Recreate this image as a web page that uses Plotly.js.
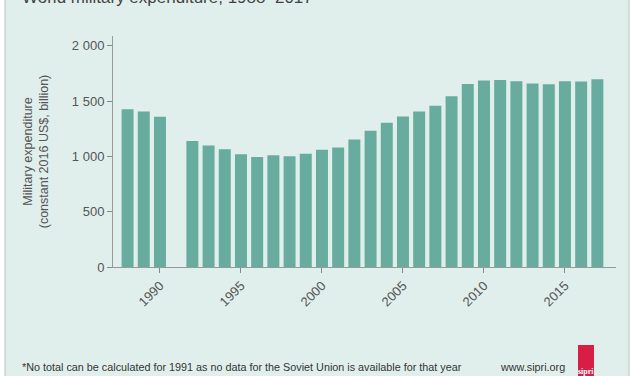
<!DOCTYPE html>
<html>
<head>
<meta charset="utf-8">
<script src="https://cdn.plot.ly/plotly-3.0.1.min.js"></script>
<style>html,body{margin:0;padding:0;background:#fff;}#chart{width:631px;height:376px;}</style>
</head>
<body>
<div id="chart"></div>
<script>
var years = [1988,1989,1990,1991,1992,1993,1994,1995,1996,1997,1998,1999,2000,2001,2002,2003,2004,2005,2006,2007,2008,2009,2010,2011,2012,2013,2014,2015,2016,2017];
var spending = [1427,1406,1357,null,1140,1099,1065,1020,995,1011,1002,1023,1059,1080,1153,1231,1304,1361,1406,1458,1543,1655,1685,1691,1679,1658,1652,1679,1676,1697];
var xTicks = [1990,1995,2000,2005,2010,2015];
var yTicks = [0,500,1000,1500,2000];

var W = 631, H = 376, L = 113, R = 15, T = 36, B = 109;
var pw = W - L - R, ph = H - T - B;
function fx(px){ return (px - L) / pw; }
function fy(py){ return (H - B - py) / ph; }

var trace = {
  type: 'bar', x: years, y: spending,
  marker: {color: '#67ac9f', line: {width: 0}},
  width: 0.74, hoverinfo: 'none'
};

var layout = {
  width: W, height: H,
  margin: {l: L, r: R, t: T, b: B, pad: 0},
  paper_bgcolor: '#ffffff',
  plot_bgcolor: 'rgba(0,0,0,0)',
  separators: '. ',
  showlegend: false,
  font: {family: 'Liberation Sans, Arial, sans-serif', color: '#555555'},
  title: {
    text: 'World military expenditure, 1988\u20132017',
    font: {size: 17, color: '#444444'},
    x: 22 / W, xanchor: 'left', xref: 'container',
    y: 1 - 3 / H, yanchor: 'bottom', yref: 'container'
  },
  xaxis: {
    range: [1987.1, 2018.15],
    tickvals: xTicks, ticktext: xTicks.map(String),
    tickangle: -45, ticks: 'outside', ticklen: 5, tickcolor: '#888888',
    tickfont: {size: 13, color: '#555555'},
    showline: true, linecolor: '#999999', linewidth: 1,
    showgrid: false, zeroline: false, fixedrange: true
  },
  yaxis: {
    range: [0, 2088],
    tickvals: yTicks, separatethousands: true, tickformat: ',d',
    ticks: 'outside', ticklen: 5, tickcolor: '#888888',
    tickfont: {size: 13, color: '#555555'},
    showline: true, linecolor: '#999999', linewidth: 1,
    showgrid: false, zeroline: false, fixedrange: true,
    title: {text: 'Military expenditure<br>(constant 2016 US$, billion)', font: {size: 12.5, color: '#555555'}, standoff: 20}
  },
  shapes: [
    {type: 'rect', xref: 'paper', yref: 'paper', layer: 'below',
     x0: fx(5), x1: fx(629), y0: fy(H + 5), y1: fy(-5),
     fillcolor: '#e1efec', line: {color: '#bcc4c2', width: 1}},
    {type: 'rect', xref: 'paper', yref: 'paper', layer: 'above',
     x0: fx(578), x1: fx(594), y0: fy(H + 5), y1: fy(345),
     fillcolor: '#d81e45', line: {width: 0}}
  ],
  annotations: [
    {text: '*No total can be calculated for 1991 as no data for the Soviet Union is available for that year',
     xref: 'paper', yref: 'paper', x: fx(20), y: fy(367), xanchor: 'left', yanchor: 'middle',
     showarrow: false, font: {size: 10.8, color: '#333333'}},
    {text: 'www.sipri.org', xref: 'paper', yref: 'paper', x: fx(498), y: fy(367),
     xanchor: 'left', yanchor: 'middle', showarrow: false, font: {size: 10.8, color: '#333333'}},
    {text: '<b>sipri</b>', xref: 'paper', yref: 'paper', x: fx(586), y: fy(371),
     xanchor: 'center', yanchor: 'middle', showarrow: false,
     font: {size: 8, color: '#ffffff', family: 'Liberation Serif, DejaVu Serif, serif'}}
  ]
};

Plotly.newPlot('chart', [trace], layout, {staticPlot: true, displayModeBar: false});
</script>
</body>
</html>
